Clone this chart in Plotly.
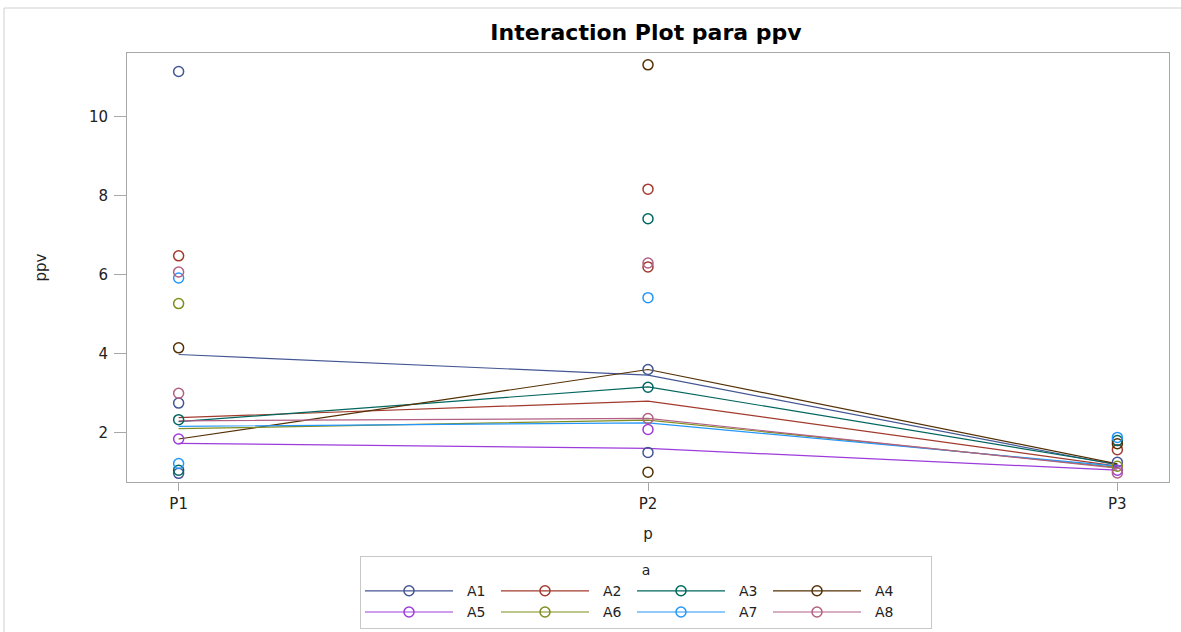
import plotly.graph_objects as go

# ---------------- data ----------------
levels = ["P1", "P2", "P3"]
groups = ["A1", "A2", "A3", "A4", "A5", "A6", "A7", "A8"]
colors = ["#445694", "#A23A2E", "#01665E", "#543005",
          "#9D3CDB", "#7F8E1F", "#2597FA", "#B26084"]

# individual observations (level, value) per group
obs_A1_p = ["P1", "P1", "P1", "P2", "P2", "P3"]
obs_A1_v = [11.15, 2.75, 0.97, 3.60, 1.50, 1.25]
obs_A2_p = ["P1", "P2", "P2", "P3"]
obs_A2_v = [6.48, 8.17, 6.20, 1.57]
obs_A3_p = ["P1", "P1", "P2", "P2", "P3"]
obs_A3_v = [2.33, 1.05, 7.42, 3.15, 1.80]
obs_A4_p = ["P1", "P2", "P2", "P3"]
obs_A4_v = [4.15, 11.32, 1.00, 1.72]
obs_A5_p = ["P1", "P2", "P3"]
obs_A5_v = [1.84, 2.08, 1.05]
obs_A6_p = ["P1", "P3"]
obs_A6_v = [5.27, 1.15]
obs_A7_p = ["P1", "P1", "P2", "P3"]
obs_A7_v = [5.92, 1.22, 5.42, 1.88]
obs_A8_p = ["P1", "P1", "P2", "P2", "P3"]
obs_A8_v = [6.07, 3.00, 6.30, 2.36, 0.98]

# cell means (P1, P2, P3) per group
mean_A1 = [3.98, 3.46, 1.18]
mean_A2 = [2.38, 2.80, 1.15]
mean_A3 = [2.28, 3.16, 1.20]
mean_A4 = [1.84, 3.60, 1.21]
mean_A5 = [1.73, 1.60, 1.05]
mean_A6 = [2.10, 2.32, 1.12]
mean_A7 = [2.16, 2.25, 1.15]
mean_A8 = [2.30, 2.36, 1.10]

obs_p = [obs_A1_p, obs_A2_p, obs_A3_p, obs_A4_p, obs_A5_p, obs_A6_p, obs_A7_p, obs_A8_p]
obs_v = [obs_A1_v, obs_A2_v, obs_A3_v, obs_A4_v, obs_A5_v, obs_A6_v, obs_A7_v, obs_A8_v]
means = [mean_A1, mean_A2, mean_A3, mean_A4, mean_A5, mean_A6, mean_A7, mean_A8]

y_ticks = [2, 4, 6, 8, 10]

FONT = "DejaVu Sans"
TXT = "#222222"

fig = go.Figure()

for g, c, m in zip(groups, colors, means):
    fig.add_trace(go.Scatter(x=levels, y=m, mode="lines",
                             line=dict(color=c, width=1.2),
                             showlegend=False, hoverinfo="skip"))
for g, c, px, v in zip(groups, colors, obs_p, obs_v):
    fig.add_trace(go.Scatter(x=px, y=v, mode="markers",
                             marker=dict(symbol="circle-open", size=10,
                                         color=c, line=dict(width=1.5, color=c)),
                             showlegend=False, name=g))
# legend entries: 4 columns x 2 rows (A1/A5, A2/A6, A3/A7, A4/A8)
for i, (g, c) in enumerate(zip(groups, colors)):
    col = i % 4
    fig.add_trace(go.Scatter(x=[None], y=[None], mode="lines+markers",
                             name="\u00a0\u00a0" + g,
                             legendgroup="col%d" % col,
                             legendrank=col * 10 + i // 4,
                             legendwidth=60 if col == 3 else 33,
                             line=dict(color=c, width=1.2),
                             marker=dict(symbol="circle-open", size=10,
                                         color=c, line=dict(width=1.5, color=c))))

W, H = 1181, 632
L, R, T, B = 127, 12, 53, 150
pw, ph = W - L - R, H - T - B

def xp(px):
    return (px - L) / pw

def yp(py):
    return (H - B - py) / ph

fig.update_layout(
    width=W, height=H,
    margin=dict(l=L, r=R, t=T, b=B, autoexpand=False),
    paper_bgcolor="white", plot_bgcolor="white",
    font=dict(family=FONT, size=15, color=TXT),
    title=dict(text="<b>Interaction Plot para ppv</b>",
               font=dict(family=FONT, size=22, color="#000000"),
               x=xp(646), xref="paper", xanchor="center",
               y=1 - 32 / H, yanchor="middle"),
    xaxis=dict(type="category", categoryorder="array", categoryarray=levels,
               range=[-0.11, 2.11], automargin=False,
               showline=True, linecolor="#a8a8a8", linewidth=1, mirror=True,
               ticks="outside", ticklen=8, tickcolor="#a8a8a8",
               showgrid=False, zeroline=False,
               tickfont=dict(family=FONT, size=15, color=TXT),
               title=dict(text="p", font=dict(family=FONT, size=15, color=TXT),
                          standoff=16)),
    yaxis=dict(range=[0.75, 11.62], tickvals=y_ticks, automargin=False,
               showline=True, linecolor="#a8a8a8", linewidth=1, mirror=True,
               ticks="outside", ticklen=12, tickcolor="#a8a8a8",
               ticklabelstandoff=3,
               showgrid=False, zeroline=False,
               tickfont=dict(family=FONT, size=15, color=TXT),
               title=dict(text="ppv", font=dict(family=FONT, size=15, color=TXT),
                          standoff=38)),
    legend=dict(orientation="h", x=xp(646), xanchor="center",
                y=yp(556), yanchor="top",
                traceorder="grouped",
                title=dict(text="a", side="top center",
                           font=dict(family=FONT, size=14, color=TXT)),
                font=dict(family=FONT, size=14, color=TXT),
                itemwidth=88, entrywidthmode="pixels",
                bordercolor="#c8c8c8", borderwidth=1, bgcolor="white",
                tracegroupgap=0),
    shapes=[dict(type="rect", xref="paper", yref="paper",
                 x0=xp(4), x1=xp(1190), y0=yp(640), y1=yp(8),
                 line=dict(color="#d0d0d0", width=1), layer="below")],
    showlegend=True,
)

fig.write_html("out.html",
               config={"displayModeBar": False},
               post_script="document.body.style.margin='0px';document.body.style.overflow='hidden';")
